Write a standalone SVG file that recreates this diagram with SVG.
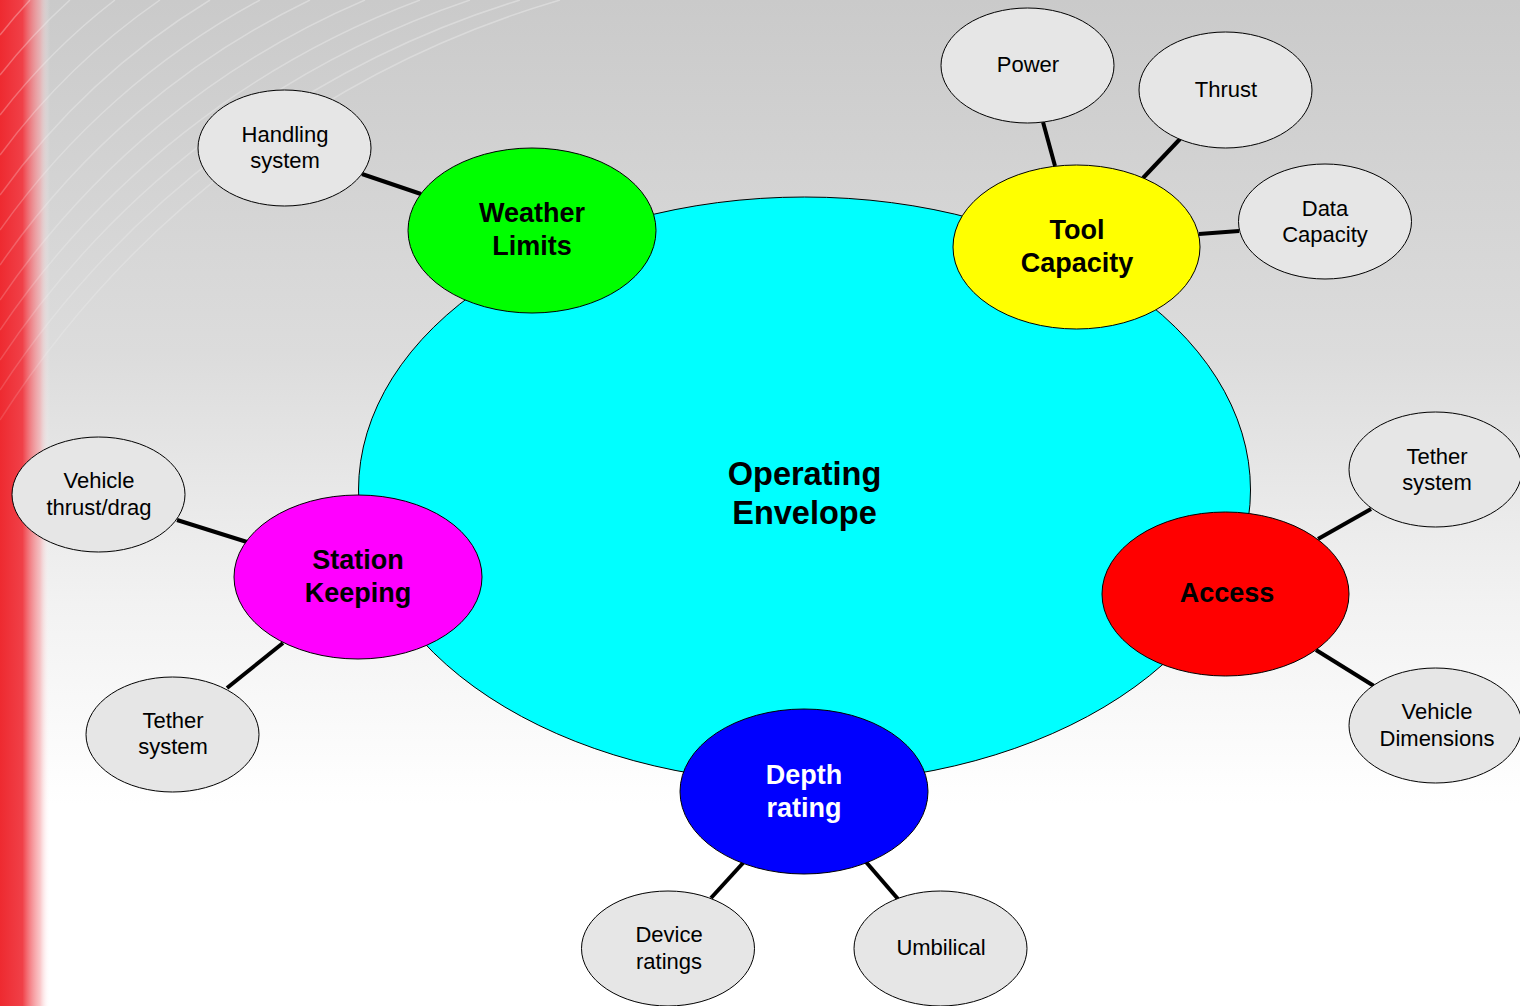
<svg xmlns="http://www.w3.org/2000/svg" width="1520" height="1006" viewBox="0 0 1520 1006">
<defs>
<linearGradient id="bg" x1="0" y1="0" x2="0" y2="1">
<stop offset="0" stop-color="#cacaca"/>
<stop offset="0.35" stop-color="#dcdcdc"/>
<stop offset="0.6" stop-color="#f2f2f2"/>
<stop offset="0.8" stop-color="#ffffff"/>
<stop offset="1" stop-color="#ffffff"/>
</linearGradient>
<linearGradient id="red" x1="0" y1="0" x2="1" y2="0">
<stop offset="0" stop-color="#ee2a30"/>
<stop offset="0.45" stop-color="#f04048"/>
<stop offset="0.8" stop-color="#f6a0a4" stop-opacity="0.6"/>
<stop offset="1" stop-color="#ffffff" stop-opacity="0"/>
</linearGradient>
<linearGradient id="fade" x1="0" y1="0" x2="0" y2="1">
<stop offset="0" stop-color="#fff" stop-opacity="1"/>
<stop offset="0.6" stop-color="#fff" stop-opacity="0.5"/>
<stop offset="1" stop-color="#fff" stop-opacity="0"/>
</linearGradient>
<mask id="swm"><rect x="0" y="0" width="700" height="620" fill="url(#fade)"/></mask>
<style>
.txt{font-family:"Liberation Sans",Arial,sans-serif;text-anchor:middle}
.sm{font-size:22px;fill:#000}
.big{font-size:27px;font-weight:bold}
.leaf{fill:#e6e6e6;stroke:#000;stroke-width:1}
.hub{stroke:#000;stroke-width:1}
.conn line{stroke:#000;stroke-width:4;stroke-linecap:butt}
.sw{fill:none;stroke:#fff;stroke-width:1.5;stroke-opacity:0.3}
</style>
</defs>
<g id="background">
<rect x="0" y="0" width="1520" height="1006" fill="url(#bg)"/>
<rect x="0" y="0" width="50" height="1006" fill="url(#red)"/>
<g mask="url(#swm)">
<path class="sw" d="M560,0 A1000,1000 0 0 0 0,420"/>
<path class="sw" d="M520,0 A960,960 0 0 0 0,390"/>
<path class="sw" d="M470,0 A920,920 0 0 0 0,360"/>
<path class="sw" d="M420,0 A880,880 0 0 0 0,330"/>
<path class="sw" d="M365,0 A840,840 0 0 0 0,300"/>
<path class="sw" d="M310,0 A800,800 0 0 0 0,265"/>
<path class="sw" d="M260,0 A760,760 0 0 0 0,230"/>
<path class="sw" d="M210,0 A720,720 0 0 0 0,195"/>
<path class="sw" d="M160,0 A680,680 0 0 0 0,155"/>
<path class="sw" d="M115,0 A640,640 0 0 0 0,115"/>
<path class="sw" d="M70,0 A600,600 0 0 0 0,75"/>
<path class="sw" d="M30,0 A560,560 0 0 0 0,35"/>
</g>
</g>
<g id="node-operating-envelope">
<ellipse class="hub" cx="804.5" cy="490" rx="446" ry="293" fill="#00ffff"/>
<text class="txt" font-size="32.5" font-weight="bold" x="804.5" y="485">Operating</text>
<text class="txt" font-size="32.5" font-weight="bold" x="804.5" y="524">Envelope</text>
</g>
<g id="connectors" class="conn">
<line x1="362" y1="174" x2="421" y2="194"/>
<line x1="1043" y1="122" x2="1055" y2="166"/>
<line x1="1180" y1="139" x2="1143" y2="178"/>
<line x1="1239" y1="231" x2="1199" y2="234"/>
<line x1="1371" y1="509" x2="1318" y2="539"/>
<line x1="1374" y1="686" x2="1316" y2="650"/>
<line x1="177" y1="520" x2="247" y2="542"/>
<line x1="227" y1="688" x2="283" y2="643"/>
<line x1="711" y1="898" x2="743" y2="863"/>
<line x1="898" y1="899" x2="866" y2="862"/>
</g>
<g id="node-weather-limits">
<ellipse class="hub" cx="532" cy="230.5" rx="124" ry="82.5" fill="#00ff00"/>
<text class="txt big" x="532" y="222">Weather</text>
<text class="txt big" x="532" y="255">Limits</text>
</g>
<g id="node-tool-capacity">
<ellipse class="hub" cx="1076.5" cy="247" rx="123.5" ry="82" fill="#ffff00"/>
<text class="txt big" x="1077" y="239">Tool</text>
<text class="txt big" x="1077" y="272">Capacity</text>
</g>
<g id="node-station-keeping">
<ellipse class="hub" cx="358" cy="577" rx="124" ry="82" fill="#ff00ff"/>
<text class="txt big" x="358" y="569">Station</text>
<text class="txt big" x="358" y="602">Keeping</text>
</g>
<g id="node-access">
<ellipse class="hub" cx="1225.5" cy="594" rx="123.5" ry="82" fill="#ff0000"/>
<text class="txt big" x="1227" y="602">Access</text>
</g>
<g id="node-depth-rating">
<ellipse class="hub" cx="804" cy="791.5" rx="124" ry="82.5" fill="#0000ff"/>
<text class="txt big" x="804" y="784" fill="#fff">Depth</text>
<text class="txt big" x="804" y="817" fill="#fff">rating</text>
</g>
<g id="node-handling-system">
<ellipse class="leaf" cx="284.5" cy="148" rx="86.5" ry="58"/>
<text class="txt sm" x="285" y="142">Handling</text>
<text class="txt sm" x="285" y="168">system</text>
</g>
<g id="node-power">
<ellipse class="leaf" cx="1027.5" cy="65.5" rx="86.5" ry="57.5"/>
<text class="txt sm" x="1028" y="72">Power</text>
</g>
<g id="node-thrust">
<ellipse class="leaf" cx="1225.5" cy="90" rx="86.5" ry="58"/>
<text class="txt sm" x="1226" y="97">Thrust</text>
</g>
<g id="node-data-capacity">
<ellipse class="leaf" cx="1325" cy="221.5" rx="86.5" ry="57.5"/>
<text class="txt sm" x="1325" y="216">Data</text>
<text class="txt sm" x="1325" y="242">Capacity</text>
</g>
<g id="node-tether-system-right">
<ellipse class="leaf" cx="1435.5" cy="469.5" rx="86.5" ry="57.5"/>
<text class="txt sm" x="1437" y="464">Tether</text>
<text class="txt sm" x="1437" y="490">system</text>
</g>
<g id="node-vehicle-dimensions">
<ellipse class="leaf" cx="1435.5" cy="725.5" rx="86.5" ry="57.5"/>
<text class="txt sm" x="1437" y="719">Vehicle</text>
<text class="txt sm" x="1437" y="746">Dimensions</text>
</g>
<g id="node-vehicle-thrust-drag">
<ellipse class="leaf" cx="98.5" cy="494.5" rx="86.5" ry="57.5"/>
<text class="txt sm" x="99" y="488">Vehicle</text>
<text class="txt sm" x="99" y="515">thrust/drag</text>
</g>
<g id="node-tether-system-left">
<ellipse class="leaf" cx="172.5" cy="734.5" rx="86.5" ry="57.5"/>
<text class="txt sm" x="173" y="728">Tether</text>
<text class="txt sm" x="173" y="754">system</text>
</g>
<g id="node-device-ratings">
<ellipse class="leaf" cx="668" cy="948.5" rx="86.5" ry="57.5"/>
<text class="txt sm" x="669" y="942">Device</text>
<text class="txt sm" x="669" y="969">ratings</text>
</g>
<g id="node-umbilical">
<ellipse class="leaf" cx="940.5" cy="948.5" rx="86.5" ry="57.5"/>
<text class="txt sm" x="941" y="955">Umbilical</text>
</g>
</svg>
